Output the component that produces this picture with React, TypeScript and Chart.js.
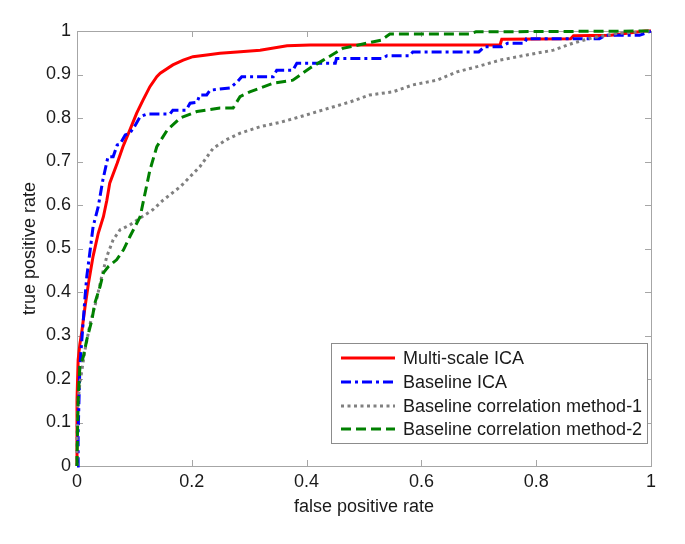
import React, { useEffect, useRef } from "react";
import { Chart, registerables } from "chart.js";

Chart.register(...registerables);

// ---- Data ----
const xTickLabels = ["0", "0.2", "0.4", "0.6", "0.8", "1"];
const yTickLabels = ["0", "0.1", "0.2", "0.3", "0.4", "0.5", "0.6", "0.7", "0.8", "0.9", "1"];

const seriesNames = [
  "Multi-scale ICA",
  "Baseline ICA",
  "Baseline correlation method-1",
  "Baseline correlation method-2",
];

const redFpr = [0, 0.0, 0.002, 0.005, 0.008, 0.014, 0.02, 0.028, 0.037, 0.046, 0.052, 0.057, 0.07, 0.08, 0.092, 0.104, 0.115, 0.127, 0.139, 0.145, 0.167, 0.185, 0.202, 0.226, 0.249, 0.279, 0.319, 0.366, 0.406, 0.737, 0.74, 0.86, 0.865, 0.93, 0.99, 1];
const redTpr = [0, 0.152, 0.244, 0.28, 0.305, 0.366, 0.42, 0.482, 0.535, 0.573, 0.611, 0.65, 0.696, 0.734, 0.772, 0.811, 0.841, 0.872, 0.895, 0.903, 0.922, 0.933, 0.941, 0.945, 0.949, 0.952, 0.956, 0.966, 0.968, 0.968, 0.981, 0.982, 0.989, 0.99, 1, 1];

const blueFpr = [0, 0.002, 0.002, 0.005, 0.008, 0.011, 0.014, 0.017, 0.023, 0.028, 0.037, 0.04, 0.045, 0.054, 0.063, 0.07, 0.075, 0.084, 0.092, 0.1, 0.11, 0.122, 0.162, 0.167, 0.19, 0.197, 0.209, 0.214, 0.226, 0.232, 0.267, 0.279, 0.287, 0.342, 0.348, 0.376, 0.383, 0.45, 0.452, 0.533, 0.54, 0.58, 0.585, 0.7, 0.71, 0.74, 0.75, 0.78, 0.783, 0.91, 0.92, 0.98, 1];
const blueTpr = [0, 0, 0.076, 0.228, 0.282, 0.336, 0.389, 0.435, 0.497, 0.55, 0.596, 0.619, 0.657, 0.711, 0.711, 0.738, 0.74, 0.761, 0.765, 0.78, 0.803, 0.809, 0.809, 0.818, 0.818, 0.834, 0.836, 0.853, 0.853, 0.864, 0.869, 0.883, 0.895, 0.895, 0.91, 0.91, 0.926, 0.926, 0.937, 0.937, 0.943, 0.943, 0.952, 0.952, 0.964, 0.964, 0.972, 0.972, 0.982, 0.982, 0.99, 0.99, 1];

const grayFpr = [0, 0.0, 0.002, 0.005, 0.014, 0.023, 0.034, 0.043, 0.052, 0.063, 0.075, 0.092, 0.11, 0.132, 0.15, 0.18, 0.214, 0.237, 0.26, 0.284, 0.319, 0.354, 0.389, 0.44, 0.476, 0.51, 0.55, 0.585, 0.627, 0.662, 0.697, 0.737, 0.784, 0.83, 0.864, 0.899, 0.946, 1];
const grayTpr = [0, 0.08, 0.152, 0.19, 0.267, 0.328, 0.382, 0.435, 0.482, 0.52, 0.543, 0.554, 0.57, 0.589, 0.611, 0.642, 0.688, 0.73, 0.75, 0.765, 0.78, 0.79, 0.803, 0.823, 0.837, 0.853, 0.86, 0.876, 0.887, 0.906, 0.918, 0.933, 0.945, 0.956, 0.972, 0.985, 0.995, 1];

const greenFpr = [0, 0.0, 0.002, 0.005, 0.011, 0.017, 0.026, 0.031, 0.04, 0.046, 0.055, 0.069, 0.081, 0.092, 0.101, 0.11, 0.116, 0.127, 0.139, 0.157, 0.18, 0.209, 0.249, 0.272, 0.284, 0.301, 0.342, 0.376, 0.406, 0.429, 0.463, 0.505, 0.53, 0.545, 0.683, 0.695, 1];
const greenTpr = [0, 0.014, 0.152, 0.228, 0.251, 0.29, 0.336, 0.374, 0.412, 0.444, 0.459, 0.474, 0.497, 0.527, 0.55, 0.573, 0.611, 0.68, 0.734, 0.772, 0.8, 0.815, 0.823, 0.823, 0.849, 0.86, 0.88, 0.887, 0.915, 0.933, 0.96, 0.972, 0.979, 0.993, 0.993, 0.998, 1];

// ---- Styles ----
const FONT = "'Liberation Sans', Arial, Helvetica, sans-serif";
const FONT_SIZE = 18;
const AXIS_COLOR = "#a6a6a6";
const TEXT_COLOR = "#1a1a1a";
const colors = ["#ff0000", "#0000ff", "#808080", "#008000"];
const dashes: number[][] = [[], [10, 4, 3, 4], [3, 3.5], [10, 5]];

const zip = (xs: number[], ys: number[]) => xs.map((x, i) => ({ x, y: ys[i] }));

const boxTicksPlugin = {
  id: "boxTicks",
  beforeDatasetsDraw(chart: any) {
    const { ctx, chartArea } = chart;
    const { left, right, top, bottom } = chartArea;
    const xs = chart.scales.x;
    const ys = chart.scales.y;
    const L = 6;
    ctx.save();
    ctx.strokeStyle = AXIS_COLOR;
    ctx.lineWidth = 1;
    ctx.setLineDash([]);
    ctx.strokeRect(Math.round(left) + 0.5, Math.round(top) + 0.5, Math.round(right - left), Math.round(bottom - top));
    ctx.beginPath();
    xs.ticks.forEach((t: any) => {
      const px = Math.round(xs.getPixelForValue(t.value)) + 0.5;
      ctx.moveTo(px, bottom);
      ctx.lineTo(px, bottom - L);
      ctx.moveTo(px, top);
      ctx.lineTo(px, top + L);
    });
    ys.ticks.forEach((t: any) => {
      const py = Math.round(ys.getPixelForValue(t.value)) + 0.5;
      ctx.moveTo(left, py);
      ctx.lineTo(left + L, py);
      ctx.moveTo(right, py);
      ctx.lineTo(right - L, py);
    });
    ctx.stroke();
    ctx.restore();
  },
};

const insideLegendPlugin = {
  id: "insideLegend",
  afterDraw(chart: any) {
    const { ctx } = chart;
    const bx = 331, by = 343, bw = 316, bh = 100;
    ctx.save();
    ctx.fillStyle = "#ffffff";
    ctx.fillRect(bx, by, bw, bh);
    ctx.strokeStyle = "#8c8c8c";
    ctx.lineWidth = 1;
    ctx.setLineDash([]);
    ctx.strokeRect(bx + 0.5, by + 0.5, bw, bh);
    const rows = [358, 382, 406, 429];
    chart.data.datasets.forEach((ds: any, i: number) => {
      const yy = rows[i];
      ctx.beginPath();
      ctx.strokeStyle = ds.borderColor;
      ctx.lineWidth = 3;
      ctx.setLineDash(ds.borderDash || []);
      ctx.moveTo(341, yy);
      ctx.lineTo(395, yy);
      ctx.stroke();
      ctx.setLineDash([]);
      ctx.fillStyle = TEXT_COLOR;
      ctx.font = `${FONT_SIZE}px ${FONT}`;
      ctx.textAlign = "left";
      ctx.textBaseline = "middle";
      ctx.fillText(ds.label, 403, yy + 1);
    });
    ctx.restore();
  },
};

export default function App() {
  const canvasRef = useRef<HTMLCanvasElement | null>(null);

  useEffect(() => {
    document.body.style.margin = "0";
    const canvas = canvasRef.current;
    if (!canvas) return;
    const series = [
      zip(redFpr, redTpr),
      zip(blueFpr, blueTpr),
      zip(grayFpr, grayTpr),
      zip(greenFpr, greenTpr),
    ];
    const chart = new Chart(canvas, {
      type: "line",
      data: {
        datasets: series.map((d, i) => ({
          label: seriesNames[i],
          data: d,
          borderColor: colors[i],
          backgroundColor: colors[i],
          borderWidth: 3,
          borderDash: dashes[i],
          pointRadius: 0,
          tension: 0,
          fill: false,
          clip: false as any,
          order: 3 - i,
        })),
      },
      options: {
        animation: false,
        responsive: false,
        devicePixelRatio: 1,
        layout: { padding: { top: 31, right: 34, left: 0, bottom: 0 } },
        plugins: { legend: { display: false }, tooltip: { enabled: false } },
        scales: {
          x: {
            type: "linear",
            min: 0,
            max: 1,
            afterBuildTicks: (scale: any) => {
              scale.ticks = xTickLabels.map((l) => ({ value: parseFloat(l) }));
            },
            afterFit: (scale: any) => {
              scale.height = 78;
            },
            grid: { display: false, drawTicks: false },
            border: { display: false },
            ticks: {
              padding: 5,
              color: TEXT_COLOR,
              font: { family: FONT, size: FONT_SIZE },
              maxRotation: 0,
              callback: (v: any) => {
                const idx = xTickLabels.findIndex((l) => Math.abs(parseFloat(l) - v) < 1e-9);
                return idx >= 0 ? xTickLabels[idx] : "";
              },
            },
            title: {
              display: true,
              text: "false positive rate",
              color: TEXT_COLOR,
              font: { family: FONT, size: FONT_SIZE },
              padding: { top: 0, bottom: 26 },
            },
          },
          y: {
            type: "linear",
            min: 0,
            max: 1,
            afterBuildTicks: (scale: any) => {
              scale.ticks = yTickLabels.map((l) => ({ value: parseFloat(l) }));
            },
            afterFit: (scale: any) => {
              scale.width = 77;
            },
            grid: { display: false, drawTicks: false },
            border: { display: false },
            ticks: {
              padding: 6,
              color: TEXT_COLOR,
              font: { family: FONT, size: FONT_SIZE },
              callback: (v: any) => {
                const idx = yTickLabels.findIndex((l) => Math.abs(parseFloat(l) - v) < 1e-9);
                return idx >= 0 ? yTickLabels[idx] : "";
              },
            },
            title: {
              display: true,
              text: "true positive rate",
              color: TEXT_COLOR,
              font: { family: FONT, size: FONT_SIZE },
              padding: { top: 19.5, bottom: 0 },
            },
          },
        },
      },
      plugins: [boxTicksPlugin, insideLegendPlugin],
    });
    return () => chart.destroy();
  }, []);

  return (
    <div style={{ width: 685, height: 544, background: "#ffffff" }}>
      <canvas ref={canvasRef} width={685} height={544} style={{ display: "block" }} />
    </div>
  );
}
